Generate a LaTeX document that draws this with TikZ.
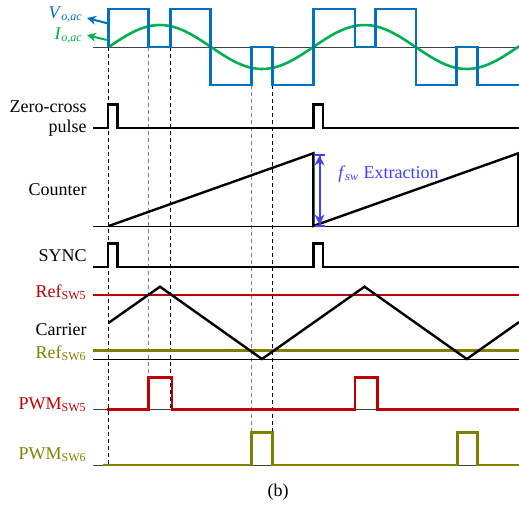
\documentclass[tikz,border=0pt]{standalone}
\usepackage{fontspec}
\setmainfont{Liberation Serif}
\usetikzlibrary{arrows.meta}
\definecolor{vblue}{RGB}{0,112,192}
\definecolor{igreen}{RGB}{0,176,80}
\definecolor{refred}{RGB}{192,0,0}
\definecolor{refolive}{RGB}{128,128,0}
\definecolor{fswblue}{RGB}{64,64,250}
\tikzset{
  lbl/.style={font=\fontsize{9}{10}\selectfont, inner sep=0pt, anchor=base east},
  axisline/.style={line width=0.5pt, black!75},
  sig/.style={line width=1.2pt, black, line join=miter},
  vsig/.style={line width=1.3pt, vblue},
  isig/.style={line width=1.3pt, igreen},
  redsig/.style={line width=1.3pt, refred},
  olivesig/.style={line width=1.4pt, refolive},
  guide/.style={dash pattern=on 2pt off 1.5pt, line width=0.45pt, black},
  guidegray/.style={guide, black!50},
  tag/.style={-{Stealth[length=4.5pt, width=4.5pt]}, line width=1pt},
}

\begin{document}
\begin{tikzpicture}[x=0.5pt, y=-0.5pt]
  \useasboundingbox (0,0) rectangle (519,509);
  % guide lines
  \draw[guide] (108.7,47) -- (108.7,465);
  \draw[guidegray] (148.7,47) -- (148.7,409.3);
  \draw[guide] (170.3,47) -- (170.3,409.3);
  \draw[guidegray] (251.3,85) -- (251.3,465);
  \draw[guide] (272.3,85) -- (272.3,432.7);

  % output voltage and current
  \draw[axisline] (93,47) -- (519,47);
  \draw[isig] plot[domain=108.7:519, samples=90] (\x, {47-22*sin((\x-108.7)/204.6*360)});
  \draw[vsig] (108.7,47) -- (108.7,9) -- (148.7,9) -- (148.7,47) -- (170.3,47)
    -- (170.3,9) -- (210.7,9) -- (210.7,85) -- (251.3,85) -- (251.3,47)
    -- (272.3,47) -- (272.3,85) -- (313.3,85) -- (313.3,9) -- (355,9)
    -- (355,47) -- (375.3,47) -- (375.3,9) -- (416,9) -- (416,85)
    -- (456.7,85) -- (456.7,47) -- (477.7,47) -- (477.7,85) -- (519,85);
  \node[lbl, text=vblue, inner xsep=2pt] (vlbl) at (87,18)
    {\textit{V}\textsubscript{\textit{o,ac}}};
  \node[lbl, text=igreen, inner xsep=2pt] (ilbl) at (87,39)
    {\textit{I}\textsubscript{\textit{o,ac}}};
  \coordinate (vpt) at (107.3,23.3);
  \coordinate (ipt) at (106.7,40);
  \draw[tag, vblue] (vpt) -- (vlbl.base east);
  \draw[tag, igreen] (ipt) -- (ilbl.east);

  % zero-cross pulse
  \node[lbl, align=right, anchor=north east] (zclbl) at (87,100) {Zero-cross\\pulse};
  \draw[sig] (93,127.7) -- (108,127.7) -- (108,104.3) -- (117.3,104.3)
    -- (117.3,127.7) -- (313.3,127.7) -- (313.3,104.3) -- (323,104.3)
    -- (323,127.7) -- (519,127.7);

  % counter
  \node[lbl] (cntlbl) at (87,195) {Counter};
  \draw[axisline, black] (93,226) -- (519,226);
  \draw[sig] (108.7,226) -- (313.3,153.3) -- (313.3,226) -- (518.3,153.3) -- (518.3,226);
  \coordinate (ctop) at (319.5,153.5);
  \coordinate (cbot) at (319.5,226.5);
  \draw[fswblue, line width=1pt,
    {Bar[width=5pt]Stealth[length=5pt, width=5pt]}-{Stealth[length=5pt, width=5pt]Bar[width=5pt]}]
    (ctop) -- (cbot);
  \node[font=\fontsize{9}{10}\selectfont, inner sep=0pt, anchor=base west, text=fswblue]
    (fswlbl) at (338,178) {\textit{f}\textsubscript{\textit{sw}} Extraction};

  % sync
  \node[lbl] (synclbl) at (87,261) {SYNC};
  \draw[sig] (93,266.7) -- (108,266.7) -- (108,243.3) -- (117.3,243.3)
    -- (117.3,266.7) -- (313.3,266.7) -- (313.3,243.3) -- (323,243.3)
    -- (323,266.7) -- (519,266.7);

  % carrier and references
  \node[lbl, text=refred] (ref5lbl) at (87,297) {Ref\textsubscript{SW5}};
  \node[lbl] (carlbl) at (87,335) {Carrier};
  \node[lbl, text=refolive] (ref6lbl) at (87,358.5) {Ref\textsubscript{SW6}};
  \draw[axisline, black] (93,359) -- (519,359);
  \draw[redsig] (93,295) -- (519,295);
  \draw[olivesig] (93,350.7) -- (519,350.7);
  \draw[sig] (108.7,322.8) -- (160,286.7) -- (262,359) -- (364.5,286.7)
    -- (466.8,359) -- (519,322.1);

  % pwm outputs
  \node[lbl, text=refred] (pwm5lbl) at (87,409.3) {PWM\textsubscript{SW5}};
  \draw[axisline] (93,409.3) -- (519,409.3);
  \draw[redsig] (106.7,409.3) -- (148.7,409.3) -- (148.7,377.3) -- (172,377.3)
    -- (172,409.3) -- (355,409.3) -- (355,377.3) -- (377.7,377.3)
    -- (377.7,409.3) -- (519,409.3);
  \node[lbl, text=refolive] (pwm6lbl) at (87,459) {PWM\textsubscript{SW6}};
  \draw[axisline] (93,465) -- (519,465);
  \draw[olivesig] (102.7,465) -- (251.3,465) -- (251.3,432.7) -- (272.3,432.7)
    -- (272.3,465) -- (457.3,465) -- (457.3,432.7) -- (477.7,432.7)
    -- (477.7,465) -- (519,465);

  \node[font=\fontsize{9}{10}\selectfont, inner sep=0pt] (cap) at (278,492) {(b)};
\end{tikzpicture}
\end{document}
